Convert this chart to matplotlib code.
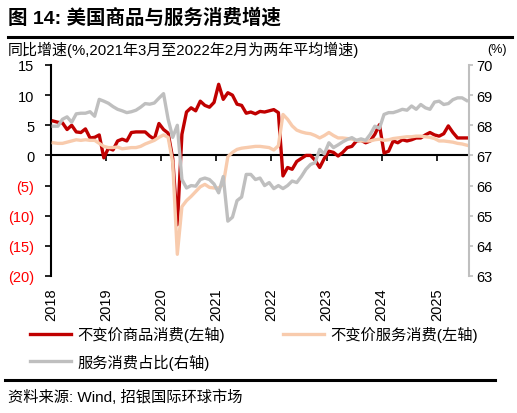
import matplotlib
matplotlib.use("Agg")
import matplotlib.pyplot as plt
from matplotlib.lines import Line2D
import numpy as np

plt.rcParams["font.family"] = ["Liberation Sans", "Noto Sans CJK SC"]

# monthly data, Jan 2018 .. Jul 2025
years = ["2018", "2019", "2020", "2021", "2022", "2023", "2024", "2025"]

goods = [5.7, 5.5, 5.4, 4.3, 5.0, 3.9, 3.8, 4.4, 2.9, 3.0,
         3.4, -0.4, 1.2, 0.9, 2.4, 2.7, 2.4, 3.8, 3.9, 3.9,
         3.9, 3.2, 2.7, 5.3, 4.3, 3.7, -0.5, -11.5, 3.5, 7.2,
         7.9, 7.4, 9.0, 8.3, 8.0, 8.8, 11.8, 9.3, 10.4, 10.0,
         8.5, 8.3, 7.0, 7.2, 6.9, 7.3, 7.2, 7.4, 7.6, 7.1,
         -3.4, -2.0, -2.3, -1.0, -0.5, 0.0, 0.0, -0.8, -2.0, -0.5,
         0.7, 0.5, -0.1, 0.5, 1.3, 1.5, 2.4, 2.5, 2.1, 2.4,
         3.5, 5.1, 0.4, 0.7, 2.4, 2.1, 2.6, 2.4, 2.6, 2.9,
         2.9, 3.4, 3.8, 3.4, 3.2, 3.6, 4.9, 3.8, 2.9, 2.9,
         2.9]

services = [2.1, 2.0, 2.0, 2.2, 2.4, 2.6, 2.5, 2.6, 2.5, 2.5,
            2.0, 1.5, 1.3, 1.3, 1.4, 1.1, 1.2, 1.3, 1.3, 1.5,
            1.9, 2.2, 2.5, 3.0, 3.4, 3.0, -1.2, -16.4, -8.5, -7.5,
            -6.8, -6.0, -5.2, -4.8, -5.3, -5.4, -5.4, -4.8, -0.2, 0.5,
            1.0, 1.2, 1.3, 1.4, 1.5, 1.5, 1.4, 1.3, 0.9, 1.6,
            6.8, 6.0, 4.9, 4.2, 3.9, 3.7, 3.6, 3.3, 2.9, 3.3,
            3.8, 3.3, 2.9, 2.9, 2.8, 2.7, 2.5, 2.4, 2.4, 2.4,
            2.6, 2.7, 2.5, 2.6, 2.8, 2.9, 3.0, 3.1, 3.1, 3.2,
            3.2, 3.1, 3.0, 2.8, 2.4, 2.4, 2.3, 2.2, 2.0, 1.9,
            1.7]

share = [67.97, 67.97, 68.2, 68.28, 68.1, 68.38, 68.4, 68.4, 68.45, 68.3,
         68.86, 68.8, 68.73, 68.62, 68.53, 68.48, 68.42, 68.45, 68.5, 68.6,
         68.72, 68.7, 68.74, 68.9, 69.05, 68.2, 67.6, 68.0, 66.2, 65.92,
         66.0, 65.98, 66.2, 66.25, 66.2, 66.05, 65.76, 66.3, 64.82, 64.95,
         65.5, 65.62, 66.37, 66.37, 66.2, 66.25, 66.0, 66.1, 65.9, 66.0,
         65.9, 66.0, 66.15, 66.1, 66.3, 66.54, 66.7, 66.76, 67.2, 67.05,
         67.42, 67.26, 67.35, 67.45, 67.53, 67.59, 67.5, 67.55, 67.5, 67.7,
         67.97, 67.9, 68.36, 68.42, 68.42, 68.47, 68.53, 68.5, 68.64, 68.53,
         68.69, 68.58, 68.53, 68.77, 68.8, 68.69, 68.72, 68.85, 68.91, 68.91,
         68.82]

left_ticks = [-20, -15, -10, -5, 0, 5, 10, 15]
left_labels = ["(20)", "(15)", "(10)", "(5)", "0", "5", "10", "15"]
right_ticks = [63, 64, 65, 66, 67, 68, 69, 70]

RED = "#C00000"
PEACH = "#F8CBAD"
GREY = "#BFBFBF"

fig = plt.figure(figsize=(5.17, 4.14), dpi=100)
ax = fig.add_axes([51 / 517, 1 - 277 / 414, 418 / 517, 211 / 414])

# categories centred in their slot, like the Excel category axis
x = np.arange(len(goods)) + 0.5

l1, = ax.plot(x, goods, color=RED, lw=2.4, zorder=3, label="不变价商品消费(左轴)")
l2, = ax.plot(x, services, color=PEACH, lw=2.4, zorder=4, label="不变价服务消费(左轴)")
ax.set_xlim(0, len(goods))
ax.set_ylim(-20, 15)
ax.set_yticks(left_ticks)
ax.set_yticklabels(left_labels)
for lab, v in zip(ax.get_yticklabels(), left_ticks):
    if v < 0:
        lab.set_color("#FF0000")
ax.tick_params(axis="y", direction="out", length=4, width=1.2, pad=8, labelsize=10.5)

# x axis line sits on zero, year labels go at the bottom
ax.spines["bottom"].set_position(("data", 0))
ax.spines["bottom"].set_linewidth(1.5)
ax.spines["bottom"].set_zorder(1)
ax.spines["left"].set_linewidth(1.5)
ax.spines["top"].set_visible(False)
ax.spines["right"].set_visible(False)
ax.set_xticks(np.arange(0, len(goods), 12))
ax.tick_params(axis="x", direction="out", length=4, width=1.2, labelbottom=False)

sec = ax.secondary_xaxis("bottom")
sec.set_xticks(np.arange(0, len(goods), 12))
sec.set_xticklabels(years, rotation=90)
sec.tick_params(length=0, pad=8, labelsize=10.5)
sec.spines["bottom"].set_visible(False)

ax2 = ax.twinx()
l3, = ax2.plot(x, share, color=GREY, lw=2.4, zorder=5, label="服务消费占比(右轴)")
ax2.set_ylim(63, 70)
ax2.set_yticks(right_ticks)
ax2.tick_params(axis="y", direction="out", length=3, width=1.2, color=GREY, pad=2, labelsize=10.5)
for s in ["top", "bottom", "left"]:
    ax2.spines[s].set_visible(False)
ax2.spines["right"].set_color(GREY)
ax2.spines["right"].set_linewidth(1.5)

# legend: red / peach on first row, grey on second
fig.legend([l1, l3, l2], [l1.get_label(), l3.get_label(), l2.get_label()],
           loc="upper left", bbox_to_anchor=(30 / 517, 1 - 327 / 414),
           ncol=2, frameon=False, fontsize=11, handlelength=2.7,
           handletextpad=0.4, columnspacing=3.8, labelspacing=0.75,
           borderpad=0, borderaxespad=0)

# header / footer
fig.text(8 / 517, 1 - 18 / 414, "图 14: 美国商品与服务消费增速", fontsize=14,
         fontweight="bold", va="center", ha="left")
fig.add_artist(Line2D([8 / 517, 512 / 517], [1 - 38 / 414, 1 - 38 / 414],
                      color="black", lw=2.2, transform=fig.transFigure))
fig.text(8 / 517, 1 - 50 / 414, "同比增速(%,2021年3月至2022年2月为两年平均增速)",
         fontsize=10.8, va="center", ha="left")
fig.text(497 / 517, 1 - 50 / 414, "(%)", fontsize=9, va="center", ha="center")
fig.add_artist(Line2D([5 / 517, 495 / 517], [1 - 381 / 414, 1 - 381 / 414],
                      color="black", lw=2.2, transform=fig.transFigure))
fig.text(8 / 517, 1 - 397 / 414, "资料来源: Wind, 招银国际环球市场",
         fontsize=11, va="center", ha="left")

fig.savefig("out.png", dpi=100)
